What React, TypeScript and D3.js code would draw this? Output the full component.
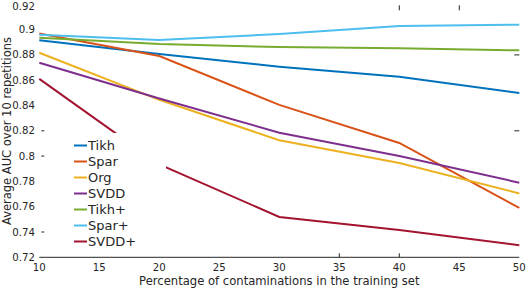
import React from "react";
import * as d3 from "d3";

const xValues = [10, 20, 30, 40, 50];
const seriesNames = ["Tikh", "Spar", "Org", "SVDD", "Tikh+", "Spar+", "SVDD+"];
const seriesColors = ["#0072BD", "#D95319", "#EDB120", "#7E2F8E", "#77AC30", "#4DBEEE", "#A2142F"];
const tikh = [0.8915, 0.8807, 0.8707, 0.8628, 0.8499];
const spar = [0.897, 0.8791, 0.8405, 0.8104, 0.759];
const org = [0.8817, 0.8445, 0.8125, 0.7946, 0.7705];
const svdd = [0.8738, 0.8455, 0.8185, 0.8001, 0.779];
const tikhPlus = [0.8936, 0.8886, 0.8862, 0.8852, 0.8836];
const sparPlus = [0.896, 0.8918, 0.8965, 0.9028, 0.9039];
const svddPlus = [0.861, 0.7935, 0.7519, 0.7416, 0.7295];
const seriesValues = [tikh, spar, org, svdd, tikhPlus, sparPlus, svddPlus];
const xTicks = [10, 15, 20, 25, 30, 35, 40, 45, 50];
const yTicks = [0.72, 0.74, 0.76, 0.78, 0.8, 0.82, 0.84, 0.86, 0.88, 0.9, 0.92];

export default function App() {
  const W = 526, H = 288;
  const left = 39.3, right = 519.3, top = 4.3, bottom = 257.3;
  const x = d3.scaleLinear().domain([10, 50]).range([left, right]);
  const y = d3.scaleLinear().domain([0.72, 0.92]).range([bottom, top]);
  const line = d3.line<number>().x((_, i) => x(xValues[i])).y((d) => y(d));
  const font = "DejaVu Sans, sans-serif";
  const textColor = "#262626";
  const fmtY = (v: number) => d3.format("")(+v.toFixed(2));
  const legendX = 70, legendTop = 133, legendRight = 166, rowH = 16;
  return (
    <svg width={W} height={H} style={{ position: "absolute", left: 0, top: 0 }} fontFamily={font}>
      <rect width={W} height={H} fill="#fff" />
      {seriesValues.map((vals, i) => (
        <path key={i} d={line(vals) || ""} fill="none" stroke={seriesColors[i]} strokeWidth={2} />
      ))}
      {/* legend */}
      <rect x={legendX} y={legendTop} width={legendRight - legendX} height={118} fill="#fff" />
      {seriesNames.map((name, i) => {
        const cy = 145.5 + i * rowH;
        return (
          <g key={name}>
            <line x1={74} x2={87} y1={cy} y2={cy} stroke={seriesColors[i]} strokeWidth={2} />
            <text x={88} y={cy} dy="0.36em" fontSize={13} fill={textColor}>{name}</text>
          </g>
        );
      })}
      {/* axis */}
      <line x1={left} x2={right} y1={bottom} y2={bottom} stroke={textColor} strokeWidth={1} />
      {xTicks.map((t) => (
        <text key={t} x={x(t)} y={267.5} dy="0.35em" textAnchor="middle" fontSize={10.2} fill={textColor}>{t}</text>
      ))}
      {yTicks.map((t) => (
        <text key={t} x={35} y={Math.max(y(t), 6.5)} dy="0.35em" textAnchor="end" fontSize={10.2} fill={textColor}>{fmtY(t)}</text>
      ))}
      {[0.82, 0.8, 0.74].map((t) => (
        <line key={"l" + t} x1={left + 2} x2={left + 5} y1={y(t)} y2={y(t)} stroke={textColor} />
      ))}
      {[0.88, 0.82].map((t) => (
        <line key={"r" + t} x1={right - 5} x2={right} y1={y(t)} y2={y(t)} stroke={textColor} />
      ))}
      {[35, 40].map((t) => (
        <line key={"b" + t} x1={x(t)} x2={x(t)} y1={bottom - 4} y2={bottom} stroke={textColor} />
      ))}
      {[40, 45].map((t) => (
        <line key={"t" + t} x1={x(t)} x2={x(t)} y1={top + 1} y2={top + 6} stroke={textColor} />
      ))}
      <text x={x(30)} y={284.5} textAnchor="middle" fontSize={11.6} fill={textColor}>
        Percentage of contaminations in the training set
      </text>
      <text transform={`translate(6.5,131) rotate(-90)`} textAnchor="middle" dy="0.35em" fontSize={11.5} fill={textColor}>
        Average AUC over 10 repetitions
      </text>
    </svg>
  );
}
